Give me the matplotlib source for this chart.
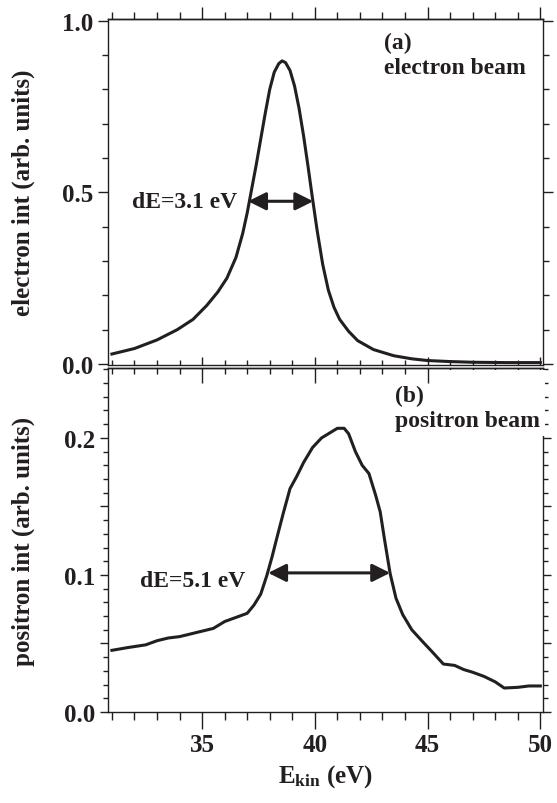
import numpy as np
import matplotlib
matplotlib.use("Agg")
import matplotlib.pyplot as plt
from matplotlib.patches import Rectangle
from matplotlib.ticker import NullFormatter

plt.rcParams['font.family'] = ['Liberation Serif', 'DejaVu Serif']
plt.rcParams['font.weight'] = 'bold'
plt.rcParams['axes.labelweight'] = 'bold'
plt.rcParams['mathtext.fontset'] = 'custom'
plt.rcParams['mathtext.rm'] = 'Liberation Serif:bold'
plt.rcParams['mathtext.default'] = 'rm'

# electron beam spectrum (panel a)
e_kin_e = [31.0, 32.0, 33.0, 33.9, 34.6, 35.2, 35.7, 36.1, 36.5, 36.8, 37.0, 37.2, 37.4,
           37.6, 37.8, 38.0, 38.2, 38.4, 38.55, 38.7, 38.9, 39.1, 39.3, 39.5, 39.7, 39.88,
           40.1, 40.35, 40.6, 40.85, 41.1, 41.5, 41.9, 42.6, 43.5, 44.3, 45.0, 46.0, 47.0,
           48.5, 50.0]
int_e = [0.029, 0.045, 0.07, 0.10, 0.13, 0.17, 0.21, 0.25, 0.31, 0.38, 0.44, 0.51, 0.58,
         0.655, 0.73, 0.80, 0.85, 0.875, 0.883, 0.878, 0.855, 0.81, 0.745, 0.665, 0.575, 0.49,
         0.39, 0.29, 0.215, 0.165, 0.13, 0.095, 0.068, 0.042, 0.024, 0.015, 0.01, 0.007, 0.005,
         0.004, 0.004]

# positron beam spectrum (panel b)
e_kin_p = [31.0, 31.7, 32.5, 33.0, 33.5, 34.0, 34.5, 35.0, 35.5, 36.0, 36.5, 37.0, 37.3,
           37.6, 37.87, 38.1, 38.3, 38.6, 38.9, 39.2, 39.5, 39.9, 40.3, 40.7, 41.0, 41.3,
           41.5, 41.8, 42.1, 42.4, 42.7, 42.9, 43.1, 43.34, 43.6, 43.9, 44.3, 44.8, 45.2,
           45.7, 46.2, 46.6, 47.0, 47.5, 48.0, 48.4, 49.0, 49.5, 50.0]
int_p = [0.045, 0.047, 0.049, 0.052, 0.054, 0.055, 0.057, 0.059, 0.061, 0.066, 0.069, 0.072, 0.078,
         0.086, 0.0995, 0.113, 0.126, 0.145, 0.163, 0.172, 0.182, 0.193, 0.200, 0.204, 0.207, 0.207,
         0.203, 0.190, 0.180, 0.174, 0.158, 0.146, 0.125, 0.101, 0.083, 0.071, 0.060, 0.051, 0.044,
         0.035, 0.034, 0.031, 0.029, 0.026, 0.022, 0.0175, 0.018, 0.019, 0.019]

fwhm_e = [37.04, 39.93, 0.474]
fwhm_p = [37.93, 43.34, 0.1015]

x_major = [35, 40, 45, 50]
x_minor = list(range(31, 51))
x_labels = ['35', '40', '45', '50']
ya_major = [0.0, 0.5, 1.0]
ya_minor = [0.1, 0.2, 0.3, 0.4, 0.6, 0.7, 0.8, 0.9]
ya_labels = ['0.0', '0.5', '1.0']
yb_major = [0.0, 0.05, 0.1, 0.15, 0.2]
yb_minor = [0.01, 0.02, 0.03, 0.04, 0.06, 0.07, 0.08, 0.09, 0.11, 0.12, 0.13, 0.14,
            0.16, 0.17, 0.18, 0.19, 0.21, 0.22, 0.23, 0.24, 0.25]
yb_labels = ['0.0', '', '0.1', '', '0.2']

ink = '#231f20'
W, H = 557, 804

fig = plt.figure(figsize=(W / 100, H / 100), dpi=100)
L, R = 108.3, 543.0
ax1 = fig.add_axes([L / W, (H - 366) / H, (R - L) / W, 346 / H])
ax2 = fig.add_axes([L / W, (H - 713) / H, (R - L) / W, 344 / H])

for ax in (ax1, ax2):
    for s in ax.spines.values():
        s.set_linewidth(1.0)
        s.set_color(ink)
    ax.set_xlim(30.84, 50.12)
    ax.set_xticks(x_major)
    ax.set_xticks(x_minor, minor=True)
    ax.tick_params(axis='both', which='both', width=1.0, color=ink, labelcolor=ink, labelsize=18)
    ax.tick_params(axis='y', which='both', direction='out', left=True, right=True)

# panel a
ax1.plot(e_kin_e, int_e, color=ink, lw=2.2, solid_joinstyle='round')
ax1.set_ylim(-0.003, 1.005)
ax1.set_yticks(ya_major)
ax1.set_yticks(ya_minor, minor=True)
ax1.set_yticklabels(ya_labels)
ax1.tick_params(axis='y', which='major', length=7.5)
ax1.tick_params(axis='y', which='minor', length=4)
ax1.tick_params(axis='x', which='both', direction='in', top=False, labelbottom=False)
ax1.tick_params(axis='x', which='major', length=6)
ax1.tick_params(axis='x', which='minor', length=3.5)
sec1 = ax1.secondary_xaxis('top')
sec1.set_xticks(x_major)
sec1.set_xticks(x_minor, minor=True)
sec1.xaxis.set_major_formatter(NullFormatter())
sec1.tick_params(axis='x', which='both', direction='out', width=1.0, color=ink)
sec1.tick_params(axis='x', which='major', length=9)
sec1.tick_params(axis='x', which='minor', length=5)
sec1.spines['top'].set_linewidth(1.0)
ax1.set_ylabel('electron int (arb. units)', fontsize=18, color=ink)
ax1.yaxis.set_label_coords(-0.168, 0.5)
ax1.text(43.05, 0.937, '(a)', fontsize=17, color=ink, va='center', ha='left')
ax1.text(43.05, 0.864, 'electron beam', fontsize=17, color=ink, va='center', ha='left')
ax1.annotate('', xy=(fwhm_e[0], fwhm_e[2]), xytext=(fwhm_e[1], fwhm_e[2]),
             arrowprops=dict(arrowstyle='<|-|>', color=ink, lw=2.2, mutation_scale=27,
                             shrinkA=0, shrinkB=0))
ax1.text(36.54, fwhm_e[2], 'dE=3.1 eV', fontsize=17, color=ink, va='center', ha='right')

# panel b
ax2.plot(e_kin_p, int_p, color=ink, lw=2.2, solid_joinstyle='round')
ax2.set_ylim(0, 0.251)
ax2.set_yticks(yb_major)
ax2.set_yticks(yb_minor, minor=True)
ax2.set_yticklabels(yb_labels)
ax2.tick_params(axis='y', which='major', length=6)
ax2.tick_params(axis='y', which='minor', length=3.5)
ax2.set_xticklabels(x_labels)
ax2.tick_params(axis='x', which='both', direction='out', top=False)
ax2.tick_params(axis='x', which='major', length=12, pad=3)
ax2.tick_params(axis='x', which='minor', length=6)
sec2 = ax2.secondary_xaxis('top')
sec2.set_xticks(x_major)
sec2.set_xticks(x_minor, minor=True)
sec2.xaxis.set_major_formatter(NullFormatter())
sec2.tick_params(axis='x', which='both', direction='in', width=1.0, color=ink)
sec2.tick_params(axis='x', which='major', length=11)
sec2.tick_params(axis='x', which='minor', length=4.5)
sec2.spines['top'].set_linewidth(1.0)
ax2.set_ylabel('positron int (arb. units)', fontsize=18, color=ink)
ax2.yaxis.set_label_coords(-0.168, 0.5)
ax2.set_xlabel('E$_{kin}$ (eV)', fontsize=18, color=ink)
ax2.xaxis.set_label_coords(0.5, -0.145)

# white box behind the panel (b) label hides part of the right spine
ax2.add_patch(Rectangle((0.74, 0.802), 0.2657, 0.192, transform=ax2.transAxes,
                        facecolor='white', edgecolor='none', zorder=2.6, clip_on=False))
ax2.text(43.57, 0.231, '(b)', fontsize=17, color=ink, va='center', ha='left', zorder=3)
ax2.text(43.57, 0.2126, 'positron beam', fontsize=17, color=ink, va='center', ha='left', zorder=3)
ax2.annotate('', xy=(fwhm_p[0], fwhm_p[2]), xytext=(fwhm_p[1], fwhm_p[2]),
             arrowprops=dict(arrowstyle='<|-|>', color=ink, lw=2.2, mutation_scale=27,
                             shrinkA=0, shrinkB=0))
ax2.text(36.91, 0.0958, 'dE=5.1 eV', fontsize=17, color=ink, va='center', ha='right')

fig.savefig('out.png', dpi=100)
